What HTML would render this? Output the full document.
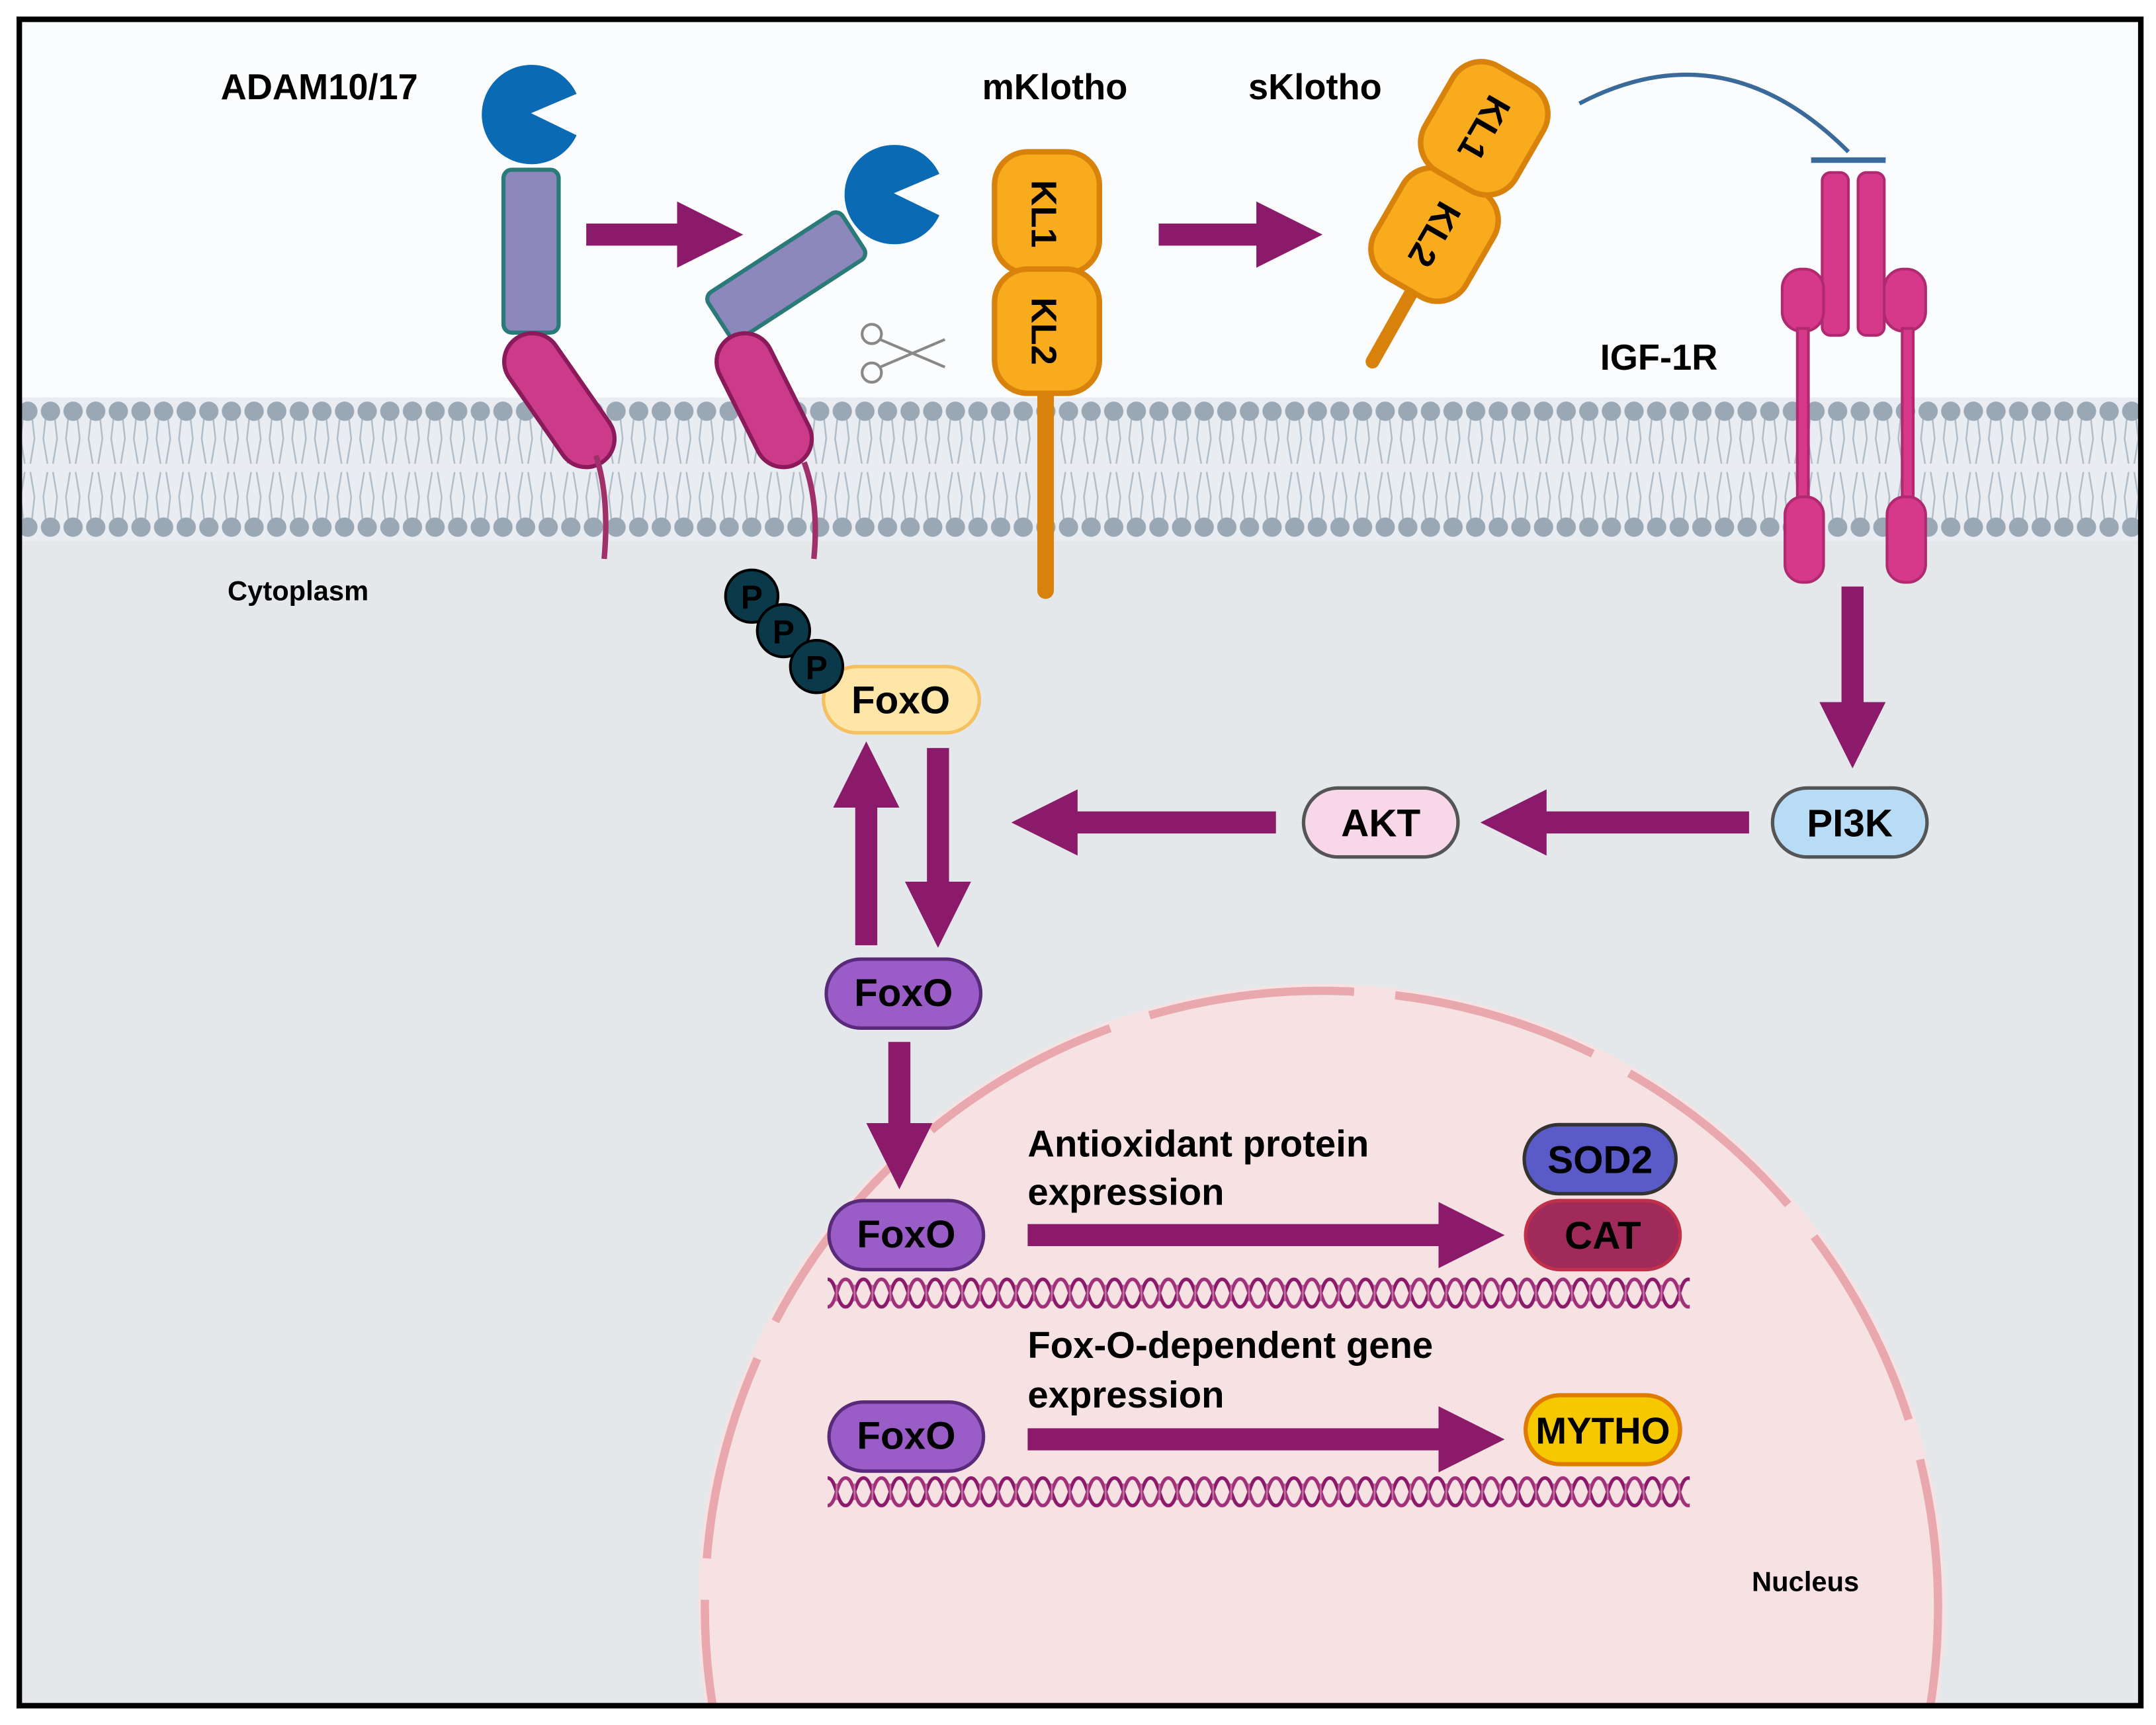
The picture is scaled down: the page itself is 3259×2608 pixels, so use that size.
<!DOCTYPE html>
<html><head><meta charset="utf-8"><style>
html,body{margin:0;padding:0;background:#fff;width:3259px;height:2608px;overflow:hidden}
svg{display:block}
text{font-family:"Liberation Sans",Arial,sans-serif;font-weight:bold}
</style></head><body>
<svg width="3259" height="2608" viewBox="0 0 1563 1250" preserveAspectRatio="none" xmlns="http://www.w3.org/2000/svg">
<defs>
<pattern id="mem" x="12" y="288" width="16.4" height="104" patternUnits="userSpaceOnUse">
<path d="M5,12 L3,30 L6,48 M11,12 L13,30 L10,48 M5,90 L3,72 L6,54 M11,90 L13,72 L10,54" stroke="#b0bcc8" stroke-width="1.2" fill="none"/>
<circle cx="8.2" cy="10" r="7" fill="#9aa8b5"/>
<circle cx="8.2" cy="94" r="7" fill="#9aa8b5"/>
</pattern>
<marker id="ah" markerWidth="3" markerHeight="3" refX="1.2" refY="1.5" orient="auto" markerUnits="strokeWidth">
<path d="M0,0 L3,1.5 L0,3 z" fill="#8b1a6b"/>
</marker>
<pattern id="dna1" x="600" y="922" width="26" height="30" patternUnits="userSpaceOnUse">
<path d="M0,5 C6.5,5 6.5,25 13,25 C19.5,25 19.5,5 26,5" stroke="#8b1a6b" stroke-width="2.5" fill="none"/>
<path d="M0,25 C6.5,25 6.5,5 13,5 C19.5,5 19.5,25 26,25" stroke="#a0307a" stroke-width="2.5" fill="none"/>
<line x1="6.5" y1="9" x2="6.5" y2="21" stroke="#c070a0" stroke-width="1.2"/>
<line x1="19.5" y1="9" x2="19.5" y2="21" stroke="#c070a0" stroke-width="1.2"/>
</pattern>
<pattern id="dna2" x="600" y="1066" width="26" height="30" patternUnits="userSpaceOnUse">
<path d="M0,5 C6.5,5 6.5,25 13,25 C19.5,25 19.5,5 26,5" stroke="#8b1a6b" stroke-width="2.5" fill="none"/>
<path d="M0,25 C6.5,25 6.5,5 13,5 C19.5,5 19.5,25 26,25" stroke="#a0307a" stroke-width="2.5" fill="none"/>
<line x1="6.5" y1="9" x2="6.5" y2="21" stroke="#c070a0" stroke-width="1.2"/>
<line x1="19.5" y1="9" x2="19.5" y2="21" stroke="#c070a0" stroke-width="1.2"/>
</pattern>
</defs>
<rect x="0" y="0" width="1563" height="1250" fill="#fff"/>
<rect x="14" y="14" width="1538" height="1222" fill="#fbfcfd"/>
<rect x="14" y="340" width="1538" height="896" fill="#e5e8eb"/>
<rect x="14" y="288" width="1538" height="104" fill="#e9edf1"/>
<rect x="14" y="288" width="1538" height="104" fill="url(#mem)"/>
<!-- nucleus -->
<circle cx="958" cy="1165" r="452" fill="#f6e2e2"/>
<circle cx="958" cy="1165" r="447" fill="none" stroke="#e8a8ad" stroke-width="6" stroke-dasharray="150 30"/>
<rect x="14" y="1236" width="1538" height="14" fill="#fff"/>
<rect x="14" y="14" width="1538" height="1222" fill="none" stroke="#000" stroke-width="4"/>

<text x="160" y="72" font-size="26">ADAM10/17</text>
<text x="712" y="72" font-size="26">mKlotho</text>
<text x="905" y="72" font-size="26">sKlotho</text>
<text x="1160" y="268" font-size="26">IGF-1R</text>
<text x="165" y="435" font-size="20">Cytoplasm</text>
<text x="1270" y="1153" font-size="20">Nucleus</text>

<path d="M385,82 L418,68 A36,36 0 1,0 418,98 Z" fill="#0a6ab3"/>
<rect x="365" y="123" width="40" height="118" rx="6" fill="#8c88bb" stroke="#2a7a7a" stroke-width="3"/>
<line x1="386" y1="262" x2="425" y2="318" stroke="#8a1a5a" stroke-width="44" stroke-linecap="round"/>
<line x1="386" y1="262" x2="425" y2="318" stroke="#cc3a8a" stroke-width="38" stroke-linecap="round"/>
<path d="M432,330 Q442,360 438,405" stroke="#a0306a" stroke-width="4" fill="none"/>
<line x1="425" y1="170" x2="510" y2="170" stroke="#8b1a6b" stroke-width="16" marker-end="url(#ah)"/>
<g transform="translate(570,200) rotate(-33)">
<rect x="-58" y="-20" width="116" height="40" rx="6" fill="#8c88bb" stroke="#2a7a7a" stroke-width="3"/>
</g>
<path d="M648,140 L681,126 A36,36 0 1,0 681,156 Z" fill="#0a6ab3"/>
<line x1="540" y1="262" x2="568" y2="318" stroke="#8a1a5a" stroke-width="44" stroke-linecap="round"/>
<line x1="540" y1="262" x2="568" y2="318" stroke="#cc3a8a" stroke-width="38" stroke-linecap="round"/>
<path d="M583,335 Q594,365 590,405" stroke="#a0306a" stroke-width="4" fill="none"/>
<g stroke="#888" stroke-width="2" fill="none">
<circle cx="632" cy="242" r="7"/><circle cx="632" cy="270" r="7"/>
<line x1="638" y1="246" x2="685" y2="266"/><line x1="638" y1="266" x2="685" y2="246"/>
</g>
<line x1="758" y1="280" x2="758" y2="428" stroke="#d9820b" stroke-width="12" stroke-linecap="round"/>
<rect x="721" y="110" width="76" height="88" rx="24" fill="#f9ab1e" stroke="#d9820b" stroke-width="4"/>
<rect x="721" y="195" width="76" height="90" rx="24" fill="#f9ab1e" stroke="#d9820b" stroke-width="4"/>
<text transform="translate(748,155) rotate(90)" font-size="26" text-anchor="middle" font-weight="normal">KL1</text>
<text transform="translate(748,240) rotate(90)" font-size="26" text-anchor="middle" font-weight="normal">KL2</text>
<line x1="840" y1="170" x2="930" y2="170" stroke="#8b1a6b" stroke-width="16" marker-end="url(#ah)"/>
<line x1="1030" y1="200" x2="995" y2="262" stroke="#d9820b" stroke-width="10" stroke-linecap="round"/>
<g transform="translate(1040,170) rotate(30)"><rect x="-38" y="-44" width="76" height="88" rx="24" fill="#f9ab1e" stroke="#d9820b" stroke-width="4"/>
<text transform="rotate(90)" x="0" y="9" font-size="26" text-anchor="middle" font-weight="normal">KL2</text></g>
<g transform="translate(1076,93) rotate(30)"><rect x="-38" y="-44" width="76" height="88" rx="24" fill="#f9ab1e" stroke="#d9820b" stroke-width="4"/>
<text transform="rotate(90)" x="0" y="9" font-size="26" text-anchor="middle" font-weight="normal">KL1</text></g>
<path d="M1145,75 Q1250,20 1340,110" stroke="#3a6a9a" stroke-width="3" fill="none"/>
<line x1="1313" y1="116" x2="1367" y2="116" stroke="#3a6a9a" stroke-width="4"/>
<g fill="#d6388a" stroke="#b02a70" stroke-width="2">
<rect x="1321" y="125" width="19" height="118" rx="6"/>
<rect x="1347" y="125" width="19" height="118" rx="6"/>
<rect x="1292" y="195" width="30" height="45" rx="14"/>
<rect x="1366" y="195" width="30" height="45" rx="14"/>
<rect x="1303" y="238" width="8" height="130"/>
<rect x="1379" y="238" width="8" height="130"/>
<rect x="1294" y="360" width="28" height="62" rx="13"/>
<rect x="1368" y="360" width="28" height="62" rx="13"/>
</g>
<line x1="1343" y1="425" x2="1343" y2="528" stroke="#8b1a6b" stroke-width="16" marker-end="url(#ah)"/>
<line x1="1268" y1="596" x2="1102" y2="596" stroke="#8b1a6b" stroke-width="16" marker-end="url(#ah)"/>
<line x1="925" y1="596" x2="762" y2="596" stroke="#8b1a6b" stroke-width="16" marker-end="url(#ah)"/>
<line x1="628" y1="685" x2="628" y2="566" stroke="#8b1a6b" stroke-width="16" marker-end="url(#ah)"/>
<line x1="680" y1="542" x2="680" y2="658" stroke="#8b1a6b" stroke-width="16" marker-end="url(#ah)"/>
<line x1="652" y1="755" x2="652" y2="833" stroke="#8b1a6b" stroke-width="16" marker-end="url(#ah)"/>
<line x1="745" y1="895" x2="1062" y2="895" stroke="#8b1a6b" stroke-width="16" marker-end="url(#ah)"/>
<line x1="745" y1="1043" x2="1062" y2="1043" stroke="#8b1a6b" stroke-width="16" marker-end="url(#ah)"/>
<rect x="1285" y="571" width="112" height="50" rx="25" fill="#b8dcf5" stroke="#555" stroke-width="2.5"/>
<text x="1341" y="606" font-size="28" text-anchor="middle" font-weight="normal">PI3K</text>
<rect x="945" y="571" width="112" height="50" rx="25" fill="#f8d8e8" stroke="#555" stroke-width="2.5"/>
<text x="1001" y="606" font-size="28" text-anchor="middle" font-weight="normal">AKT</text>
<rect x="597" y="483" width="113" height="48" rx="24" fill="#fde6a8" stroke="#f5c060" stroke-width="2.5"/>
<text x="653" y="517" font-size="28" text-anchor="middle" font-weight="normal">FoxO</text>
<g fill="#0a3a4a" stroke="#000" stroke-width="2">
<circle cx="545" cy="432" r="19"/><circle cx="568" cy="457" r="19"/><circle cx="592" cy="483" r="19"/>
</g>
<g font-size="24" text-anchor="middle" fill="#000" font-weight="normal"><text x="545" y="441">P</text><text x="568" y="466">P</text><text x="592" y="492">P</text></g>
<g fill="#9a5cc6" stroke="#5a2a7a" stroke-width="2.5">
<rect x="599" y="695" width="112" height="50" rx="25"/>
<rect x="601" y="870" width="112" height="50" rx="25"/>
<rect x="601" y="1016" width="112" height="50" rx="25"/>
</g>
<g font-size="28" text-anchor="middle" font-weight="normal">
<text x="655" y="729">FoxO</text><text x="657" y="904">FoxO</text><text x="657" y="1050">FoxO</text>
</g>
<rect x="1105" y="815" width="110" height="50" rx="25" fill="#5a5ac8" stroke="#333" stroke-width="2.5"/>
<text x="1160" y="850" font-size="28" text-anchor="middle" font-weight="normal">SOD2</text>
<rect x="1106" y="870" width="112" height="50" rx="25" fill="#a02a5a" stroke="#c0304a" stroke-width="2.5"/>
<text x="1162" y="905" font-size="28" text-anchor="middle" font-weight="normal">CAT</text>
<rect x="1106" y="1011" width="112" height="50" rx="25" fill="#f5c800" stroke="#e07a00" stroke-width="3"/>
<text x="1162" y="1046" font-size="27" text-anchor="middle" font-weight="normal">MYTHO</text>
<text x="745" y="838" font-size="27">Antioxidant protein</text>
<text x="745" y="873" font-size="27">expression</text>
<text x="745" y="984" font-size="27">Fox-O-dependent gene</text>
<text x="745" y="1020" font-size="27">expression</text>
<rect x="600" y="922" width="625" height="30" fill="url(#dna1)"/>
<rect x="600" y="1066" width="625" height="30" fill="url(#dna2)"/>
</svg>
</body></html>
